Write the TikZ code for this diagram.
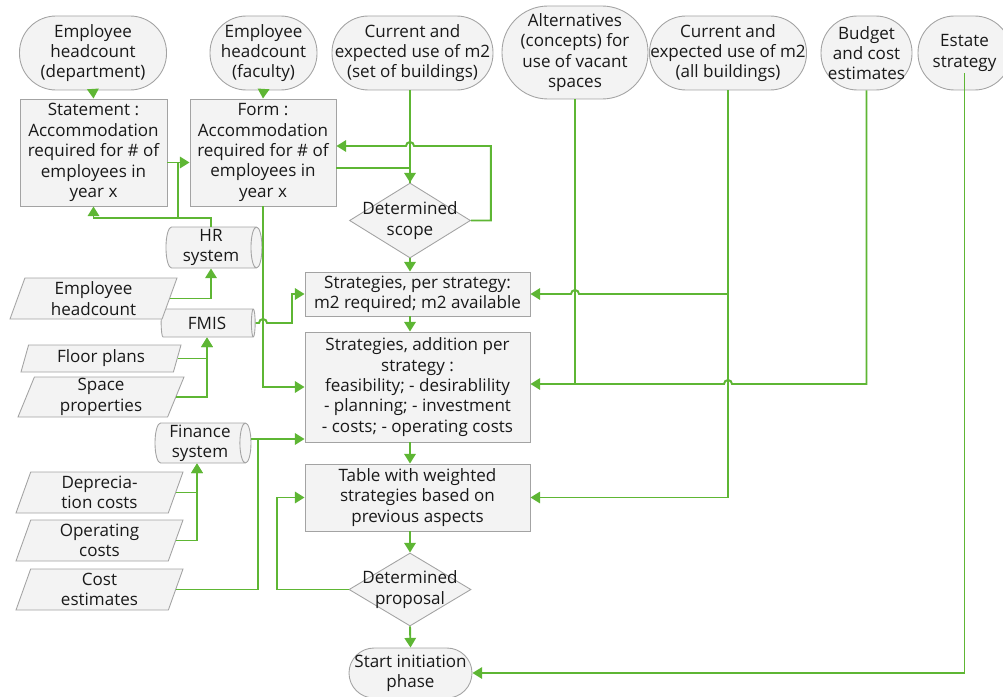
\documentclass[tikz,border=0pt]{standalone}
\usepackage{fontspec}
\setmainfont{Open Sans}
\usetikzlibrary{shapes.geometric,arrows.meta}

\definecolor{boxfill}{RGB}{243,243,243}
\definecolor{boxline}{RGB}{163,163,163}
\definecolor{flowgreen}{RGB}{94,182,52}
\newcommand{\pxl}{0.02cm}
\newcommand{\zw}[1]{\makebox[0pt]{#1}}

\begin{document}
\begin{tikzpicture}[x=\pxl, y=-\pxl,
  every node/.style={font=\fontsize{9.7}{11.6}\selectfont, text=black!90},
  base/.style={draw=boxline, fill=boxfill, line width=0.5pt, inner sep=0pt, align=center},
  term/.style={base, rectangle, rounded corners=#1},
  proc/.style={base, rectangle},
  decide/.style={base, diamond},
  dbase/.style={base, cylinder, aspect=0.3},
  data/.style={base, trapezium, trapezium left angle=66, trapezium right angle=114,
    trapezium stretches body=true, minimum width=167*\pxl},
  link/.style={draw=flowgreen, line width=1.1pt},
  flow/.style={link, -{Triangle[length=5.5pt,width=6.5pt]}}]
\useasboundingbox (0,0) rectangle (1003,696);

% sources along the top
\node[term=36.5*\pxl, minimum width=147*\pxl, minimum height=74*\pxl] (t_dept) at (93,53) {Employee\\headcount\\(department)};
\node[term=36.5*\pxl, minimum width=107*\pxl, minimum height=74*\pxl] (t_fac) at (263.5,53) {Employee\\headcount\\(faculty)};
\node[term=36.5*\pxl, minimum width=161*\pxl, minimum height=74*\pxl] (t_set) at (412.5,53) {Current and\\expected use of m2\\(set of buildings)};
\node[term=46*\pxl, minimum width=146*\pxl, minimum height=93*\pxl] (t_alt) at (575,52.5) {Alternatives\\(concepts) for\\use of vacant\\spaces};
\node[term=36.5*\pxl, minimum width=157*\pxl, minimum height=74*\pxl] (t_all) at (728,53) {Current and\\expected use of m2\\(all buildings)};
\node[term=36.5*\pxl, minimum width=91*\pxl, minimum height=74*\pxl] (t_bud) at (866.5,53) {Budget\\and cost\\estimates};
\node[term=36.5*\pxl, minimum width=93*\pxl, minimum height=74*\pxl] (t_est) at (964.5,53) {Estate\\strategy};

\node[proc, minimum width=147*\pxl, minimum height=107*\pxl] (stmt) at (93.5,152.5) {Statement :\\Accommodation\\required for \# of\\employees in\\year x};
\node[proc, minimum width=146*\pxl, minimum height=107*\pxl] (form) at (263,152.5) {Form :\\Accommodation\\required for \# of\\employees in\\year x};

% main column
\node[decide, minimum width=121*\pxl, minimum height=75*\pxl] (scope) at (410,220.5) {\zw{Determined}\\\zw{scope}};
\node[proc, minimum width=225*\pxl, minimum height=44*\pxl] (strat1) at (417.5,294) {Strategies, per strategy:\\m2 required; m2 available};
\node[proc, minimum width=225*\pxl, minimum height=110*\pxl] (strat2) at (417.5,387) {Strategies, addition per\\strategy :\\feasibility; - desirablility\\- planning; - investment\\- costs; - operating costs};
\node[proc, minimum width=225*\pxl, minimum height=67*\pxl] (table) at (417.5,497.5) {Table with weighted\\strategies based on\\previous aspects};
\node[decide, minimum width=122*\pxl, minimum height=73*\pxl] (prop) at (410,589.5) {\zw{Determined}\\\zw{proposal}};
\node[term=25*\pxl, minimum width=123*\pxl, minimum height=50*\pxl] (start) at (410.5,673) {Start initiation\\phase};

% systems and data on the left (cylinder: height runs along its axis)
\node[dbase, minimum height=96*\pxl, minimum width=41*\pxl] (hr) at (211,247.5) {HR\\system};
\node[dbase, minimum height=94*\pxl, minimum width=28*\pxl] (fmis) at (207,323) {FMIS};
\node[dbase, minimum height=96*\pxl, minimum width=40*\pxl] (fin) at (200,443) {Finance\\system};

\node[data, minimum height=41*\pxl] (emp) at (93.5,298.5) {Employee\\headcount};
\node[data, minimum height=27*\pxl, minimum width=160*\pxl] (floor) at (101,358.5) {Floor plans};
\node[data, minimum height=40*\pxl, minimum width=166*\pxl] (space) at (101,397) {Space\\properties};
\node[data, minimum height=41*\pxl] (dep) at (99.5,492.5) {Deprecia-\\tion costs};
\node[data, minimum height=41*\pxl] (oper) at (99.5,540.5) {Operating\\costs};
\node[data, minimum height=41*\pxl] (cost) at (99.5,589.5) {Cost\\estimates};

% headcount forms
\foreach \a/\b in {t_dept/stmt, t_fac/form}
  \draw[flow] (\a.south) -- (\b.north);
\draw[flow] (hr.north) -- ++(0,-9) -| (stmt.south);
\draw[link] (hr.north) ++(0,-9) -| (178,162);
\draw[flow] ([yshift=-10*\pxl]stmt.east) -- ([yshift=-10*\pxl]form.west);

% scope loop
\draw[flow] (scope.north |- t_set.south) -- (scope.north);
\draw[link] ([yshift=-15.5*\pxl]form.east) -| (scope.north);
\draw[flow] (scope.east) -- ++(20,0) |- (414,146) arc[start angle=0, end angle=180, radius=4*\pxl] -- ([yshift=6.5*\pxl]form.east);

% down the main column
\draw[flow] (scope.south) -- (scope.south |- strat1.north);
\draw[flow] (strat1.south -| scope.south) -- (strat2.north -| scope.south);
\draw[flow] (strat2.south -| scope.south) -- (table.north -| scope.south);
\draw[flow] (table.south -| scope.south) -- (prop.north);
\draw[flow] (prop.south) -- (start.north);
\draw[flow] (prop.west) -- ++(-72,0) |- (table.west);

% left-hand inputs
\foreach \d/\s in {emp/hr, floor/fmis, space/fmis}
  \draw[flow] (\d.east) -| (\s.south);
\foreach \d in {dep, oper}
  \draw[flow] (\d.east) -| ([xshift=-3*\pxl]fin.south);
\draw[flow] (form.south) |- (strat2.west);
\draw[flow] (fmis.east) -- (259,323) arc[start angle=180, end angle=0, radius=4*\pxl] -- (292,323) |- (strat1.west);
\draw[flow] ([yshift=4*\pxl]fin.east) -- ([yshift=4*\pxl]fin.east -| strat2.west);
\draw[link] (cost.east) -| (258,439);

% right-hand inputs
\draw[link] (t_alt.south) -- ++(0,285);
\draw[flow] (t_bud.south) |- (732,384) arc[start angle=0, end angle=180, radius=4*\pxl] -- ([yshift=3*\pxl]strat2.east);
\draw[flow] (t_all.south) |- (579,294) arc[start angle=0, end angle=180, radius=4*\pxl] -- (strat1.east);
\draw[flow] (t_all.south) |- (table.east);
\draw[flow] ([yshift=17*\pxl]t_est.south) |- (start.east);
\end{tikzpicture}
\end{document}
